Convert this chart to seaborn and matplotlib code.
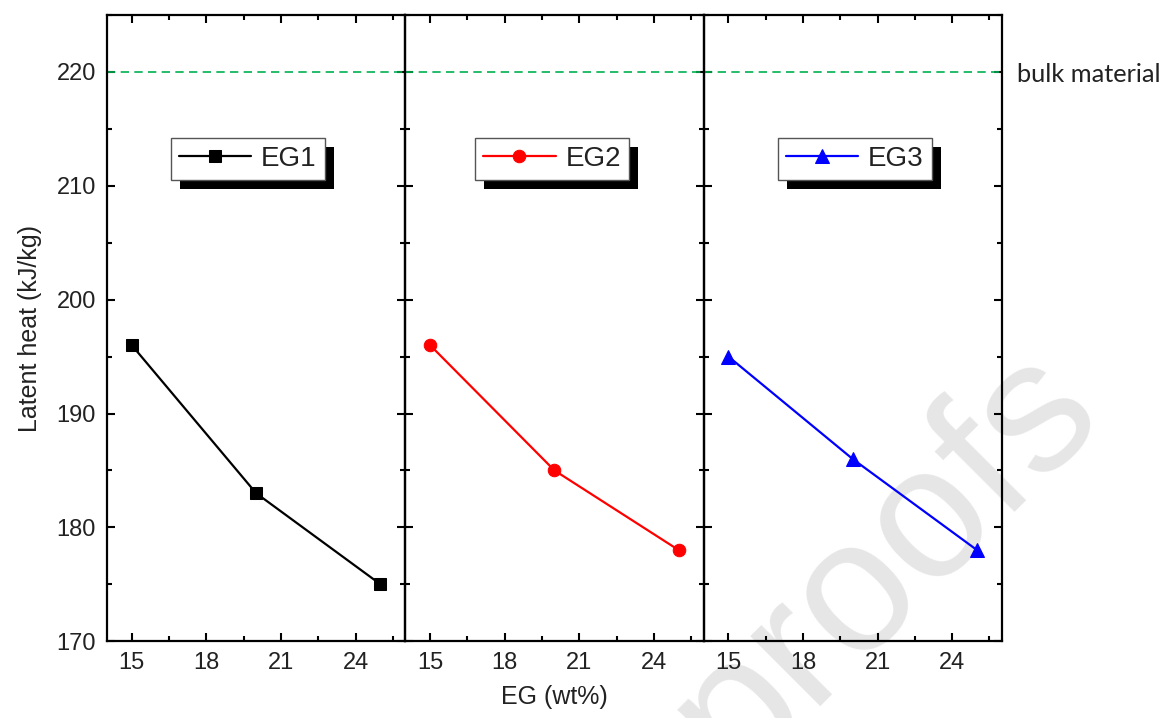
import numpy as np
import pandas as pd
import matplotlib
matplotlib.use("Agg")
import matplotlib.pyplot as plt
import matplotlib.patheffects as pe
from matplotlib.ticker import MultipleLocator
import seaborn as sns

# ---- data ----
eg_wt = [15, 20, 25]
series_names = ["EG1", "EG2", "EG3"]
eg1_heat = [196, 183, 175]
eg2_heat = [196, 185, 178]
eg3_heat = [195, 186, 178]
bulk_heat = 220
x_ticks = [15, 18, 21, 24]
y_ticks = [170, 180, 190, 200, 210, 220]
bulk_label = "bulk material"
x_label = "EG (wt%)"
y_label = "Latent heat (kJ/kg)"
watermark = "proofs"

series_values = [eg1_heat, eg2_heat, eg3_heat]
colors = ["#000000", "#ff0000", "#0000ff"]
markers = ["s", "o", "^"]
msizes = [8, 9, 10]
legend_x = [0.473, 0.492, 0.507]

sns.set_style("ticks")
plt.rcParams["font.family"] = ["Liberation Sans", "DejaVu Sans"]

fig, axes = plt.subplots(1, 3, sharey=True, figsize=(11.65, 7.18), dpi=100)
fig.subplots_adjust(left=0.0918, right=0.860, top=0.979, bottom=0.107, wspace=0)

for i, ax in enumerate(axes):
    df = pd.DataFrame({"wt": eg_wt, "heat": series_values[i]})
    sns.lineplot(data=df, x="wt", y="heat", ax=ax, color=colors[i], marker=markers[i],
                 markersize=msizes[i], markeredgecolor=colors[i], linewidth=1.6,
                 label=series_names[i])
    ax.axhline(bulk_heat, color="#00b050", linestyle=(0, (5, 3.2)), linewidth=1.2, zorder=1)
    ax.set_facecolor("none")
    ax.set_xlim(14, 26)
    ax.set_ylim(170, 225)
    ax.set_xticks(x_ticks)
    ax.xaxis.set_minor_locator(MultipleLocator(1.5))
    ax.set_yticks(y_ticks)
    ax.yaxis.set_minor_locator(MultipleLocator(5))
    ax.tick_params(which="both", direction="in", top=True, right=True, bottom=True, left=True,
                   width=1.5, color="black", labelsize=17, labelcolor="#222222")
    ax.tick_params(which="major", length=6, pad=8)
    ax.tick_params(which="minor", length=3.5)
    if i > 0:
        ax.tick_params(axis="y", which="both", labelleft=False)
    for sp in ax.spines.values():
        sp.set_visible(True)
        sp.set_linewidth(1.6)
        sp.set_color("black")
    ax.set_xlabel("")
    ax.set_ylabel("")
    leg = ax.legend(loc="center", bbox_to_anchor=(legend_x[i], 0.77), fontsize=20, frameon=True,
                    fancybox=False, borderpad=0.3, handletextpad=0.35, handlelength=2.6,
                    labelcolor="#222222")
    frame = leg.get_frame()
    frame.set_edgecolor("#555555")
    frame.set_linewidth(1.0)
    frame.set_facecolor("white")
    frame.set_alpha(1)
    frame.set_path_effects([pe.SimplePatchShadow(offset=(6.5, -6.5), shadow_rgbFace="black", alpha=1.0),
                            pe.Normal()])

axes[0].set_ylabel(y_label, fontsize=18, labelpad=10, color="#222222")
axes[1].set_xlabel(x_label, fontsize=18, labelpad=8, color="#222222")

axes[2].annotate(bulk_label, xy=(1.0, bulk_heat), xycoords=("axes fraction", "data"),
                 xytext=(11, -2), textcoords="offset points", ha="left", va="center",
                 fontsize=18.3, family=["Lato", "DejaVu Sans"], color="#222222")

fig.text(0.631, -0.086, watermark, rotation=45, rotation_mode="anchor", ha="left", va="baseline",
         fontsize=135, color="#e6e6e6", zorder=-5)

fig.savefig("out.png", dpi=100)
